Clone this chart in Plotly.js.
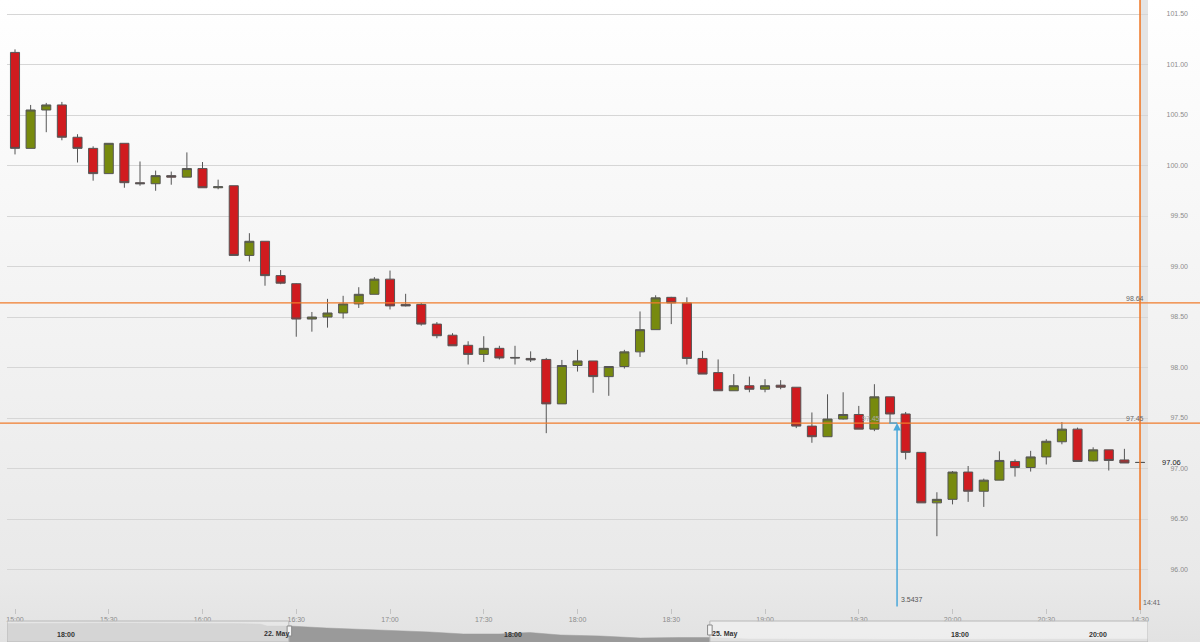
<!DOCTYPE html>
<html>
<head>
<meta charset="utf-8">
<script src="https://cdn.plot.ly/plotly-3.0.1.min.js"></script>
<style>
  html, body { margin: 0; padding: 0; }
  body { width: 1200px; height: 642px; overflow: hidden;
         background: linear-gradient(to bottom, #ffffff 0%, #f4f4f4 45%, #e9e9e9 90%, #e2e2e2 100%); }
  #chart { width: 1200px; height: 642px; }
</style>
</head>
<body>
<div id="chart"></div>
<script>
// ---- data (5-minute candles) ----
const times = [
  "15:00","15:05","15:10","15:15","15:20","15:25","15:30","15:35","15:40","15:45","15:50","15:55",
  "16:00","16:05","16:10","16:15","16:20","16:25","16:30","16:35","16:40","16:45","16:50","16:55",
  "17:00","17:05","17:10","17:15","17:20","17:25","17:30","17:35","17:40","17:45","17:50","17:55",
  "18:00","18:05","18:10","18:15","18:20","18:25","18:30","18:35","18:40","18:45","18:50","18:55",
  "19:00","19:05","19:10","19:15","19:20","19:25","19:30","19:35","19:40","19:45","19:50","19:55",
  "20:00","20:05","20:10","20:15","20:20","20:25","20:30","20:35","20:40","20:45","20:50","20:55",
  "14:30"
];
const openP = [
  101.12,100.17,100.55,100.60,100.28,100.17,99.92,100.22,99.83,99.82,99.90,99.885,
  99.97,99.78,99.80,99.11,99.25,98.91,98.83,98.48,98.50,98.54,98.63,98.725,
  98.875,98.625,98.625,98.43,98.32,98.22,98.13,98.19,98.10,98.09,98.08,97.64,
  98.02,98.065,97.91,98.01,98.155,98.375,98.695,98.64,98.09,97.95,97.77,97.82,
  97.785,97.825,97.805,97.42,97.315,97.49,97.535,97.39,97.71,97.54,97.16,96.66,
  96.695,96.965,96.775,96.885,97.07,97.01,97.115,97.265,97.39,97.075,97.185,97.085,
  97.06
];
const highP = [
  101.15,100.60,100.62,100.63,100.31,100.19,100.22,100.22,100.04,99.95,99.94,100.13,
  100.035,99.86,99.80,99.33,99.25,98.965,98.835,98.55,98.68,98.71,98.795,98.895,
  98.96,98.73,98.64,98.45,98.34,98.26,98.31,98.215,98.215,98.16,98.095,98.075,
  98.175,98.065,98.01,98.175,98.555,98.715,98.70,98.695,98.165,98.08,97.935,97.91,
  97.885,97.875,97.805,97.555,97.735,97.755,97.62,97.835,97.71,97.56,97.16,96.765,
  96.975,97.025,96.90,97.17,97.09,97.175,97.29,97.46,97.405,97.21,97.185,97.195,
  97.06
];
const lowP = [
  100.11,100.17,100.33,100.25,100.03,99.85,99.92,99.78,99.80,99.75,99.81,99.885,
  99.78,99.765,99.11,99.05,98.81,98.825,98.305,98.355,98.395,98.485,98.59,98.725,
  98.575,98.605,98.415,98.29,98.215,98.03,98.055,98.08,98.03,98.055,97.35,97.64,
  97.96,97.75,97.72,97.99,98.105,98.375,98.43,98.03,97.935,97.77,97.77,97.755,
  97.755,97.785,97.40,97.255,97.315,97.485,97.39,97.37,97.45,97.09,96.66,96.33,
  96.645,96.67,96.62,96.885,96.92,96.97,97.04,97.24,97.07,97.07,96.98,97.055,
  97.06
];
const closeP = [
  100.17,100.55,100.60,100.28,100.17,99.92,100.22,99.83,99.82,99.90,99.885,99.97,
  99.78,99.79,99.11,99.25,98.91,98.835,98.48,98.50,98.54,98.63,98.725,98.875,
  98.61,98.61,98.43,98.315,98.215,98.13,98.19,98.095,98.095,98.075,97.64,98.02,
  98.065,97.91,98.01,98.155,98.375,98.69,98.64,98.09,97.935,97.77,97.82,97.785,
  97.82,97.805,97.42,97.315,97.49,97.535,97.39,97.71,97.54,97.16,96.66,96.695,
  96.965,96.775,96.885,97.08,97.01,97.115,97.27,97.39,97.07,97.185,97.08,97.055,
  97.06
];
const tickTimes = ["15:00","15:30","16:00","16:30","17:00","17:30","18:00","18:30","19:00","19:30","20:00","20:30","14:30"];

// reference levels
const levelHigh = 98.64;
const levelLow = 97.45;
const lastPrice = 97.06;
const measureText = "3.5437";
const nowLabel = "14:41";

// navigator (overview) series
const navPos = [0, 10, 20, 22.2, 22.8, 24.7, 28, 31, 34.5, 37, 40, 43.2, 45.8, 48.5, 52, 55.5, 59, 61.5, 65, 80, 100];
const navVal = [100.83, 100.94, 100.83, 100.71, 100.26, 100.26, 99.80, 99.46, 99.23, 98.89, 98.43, 98.43, 98.77, 98.20, 97.97, 97.51, 97.63, 97.63, 97.29, 97.17, 97.29];
const navLabels = ["18:00", "22. May", "18:00", "25. May", "18:00", "20:00"];
const navLabelPos = [4.2, 22.35, 43.4, 61.6, 82.6, 94.65];

// ---- chart ----
const FONT = "'Liberation Sans', Arial, sans-serif";
const W = 1200, H = 642, ML = 7, MR = 52;
const PW = W - ML - MR;
const px2paperY = p => (H - p) / H;
const blue = '#4aa8da';
const orange = '#f07c2c';

const candle = {
  type: 'candlestick',
  x: times, open: openP, high: highP, low: lowP, close: closeP,
  increasing: { fillcolor: '#778a0e', line: { color: '#555555', width: 1 } },
  decreasing: { fillcolor: '#d01b1f', line: { color: '#555555', width: 1 } },
  whiskerwidth: 0,
  hoverinfo: 'skip',
  showlegend: false
};

const nav = {
  type: 'scatter', mode: 'lines',
  x: navPos, y: navVal, xaxis: 'x2', yaxis: 'y2',
  fill: 'tozeroy', fillcolor: '#9a9a9a',
  line: { color: '#9a9a9a', width: 0.5 },
  hoverinfo: 'skip', showlegend: false
};

const shapes = [
  // light strip at the live edge
  { type: 'rect', xref: 'x', yref: 'paper', x0: 72, x1: 72.51, y0: px2paperY(608), y1: 1,
    fillcolor: '#e4e4e4', line: { width: 0 }, layer: 'below' },
  // horizontal levels
  { type: 'line', xref: 'paper', yref: 'y', x0: -ML / PW, x1: 1 + MR / PW, y0: levelHigh, y1: levelHigh,
    line: { color: orange, width: 1.3 } },
  { type: 'line', xref: 'paper', yref: 'y', x0: -ML / PW, x1: 1 + MR / PW, y0: levelLow, y1: levelLow,
    line: { color: orange, width: 1.3 } },
  // current time line
  { type: 'line', xref: 'x', yref: 'paper', x0: 72, x1: 72, y0: px2paperY(610), y1: 1,
    line: { color: orange, width: 1.6 } },
  // small blue tick at arrow tip
  { type: 'line', xref: 'x', yref: 'y', x0: 55.95, x1: 56.45, y0: levelLow, y1: levelLow,
    line: { color: blue, width: 1.5 } },
  // navigator masks
  { type: 'rect', xref: 'x2', yref: 'paper', x0: 0, x1: 24.7, y0: 0, y1: px2paperY(621),
    fillcolor: 'rgba(232,232,232,0.75)', line: { color: '#b8b8b8', width: 1 } },
  { type: 'rect', xref: 'x2', yref: 'paper', x0: 61.6, x1: 100, y0: 0, y1: px2paperY(621),
    fillcolor: 'rgba(240,240,240,0.8)', line: { color: '#b8b8b8', width: 1 } },
  // navigator handles
  { type: 'rect', xref: 'x2', yref: 'paper', x0: 24.55, x1: 24.95, y0: px2paperY(636), y1: px2paperY(626),
    fillcolor: '#f4f4f4', line: { color: '#8a8a8a', width: 1 } },
  { type: 'rect', xref: 'x2', yref: 'paper', x0: 61.4, x1: 61.8, y0: px2paperY(635), y1: px2paperY(625),
    fillcolor: '#f4f4f4', line: { color: '#8a8a8a', width: 1 } }
];

const annotations = [
  { xref: 'paper', yref: 'y', x: (1146 - ML) / PW, y: levelHigh, xanchor: 'right', yanchor: 'bottom',
    text: levelHigh.toFixed(2), showarrow: false, font: { family: FONT, size: 7, color: '#666' }, yshift: -1 },
  { xref: 'paper', yref: 'y', x: (1146 - ML) / PW, y: levelLow, xanchor: 'right', yanchor: 'bottom',
    text: levelLow.toFixed(2), showarrow: false, font: { family: FONT, size: 7, color: '#666' }, yshift: -1 },
  { xref: 'x', yref: 'y', x: 54.8, y: levelLow, xanchor: 'center', yanchor: 'bottom',
    text: levelLow.toFixed(2), showarrow: false, font: { family: FONT, size: 7, color: '#aaa' }, yshift: -1 },
  { xref: 'paper', yref: 'y', x: (1160 - ML) / PW, y: lastPrice, xanchor: 'left', yanchor: 'middle',
    text: lastPrice.toFixed(2), showarrow: false, font: { family: FONT, size: 7.5, color: '#1a1a1a' } },
  { xref: 'x', yref: 'paper', x: 72, y: px2paperY(602), xanchor: 'left', yanchor: 'middle', xshift: 1,
    text: nowLabel, showarrow: false, font: { family: FONT, size: 7, color: '#666' } },
  { xref: 'x', yref: 'paper', x: 56.45, y: px2paperY(599), xanchor: 'left', yanchor: 'middle', xshift: 2,
    text: measureText, showarrow: false, font: { family: FONT, size: 7, color: '#555' } },
  { xref: 'x', yref: 'y', x: 56.45, y: levelLow, ax: 0, ay: 185, text: '', showarrow: true,
    arrowhead: 2, arrowsize: 1, arrowwidth: 1.5, arrowcolor: blue, standoff: 0 }
];
navLabels.forEach((t, i) => annotations.push({
  xref: 'x2', yref: 'paper', x: navLabelPos[i], y: px2paperY(634), xanchor: 'left', yanchor: 'middle',
  text: '<b>' + t + '</b>', showarrow: false, font: { family: FONT, size: 7, color: '#333' }
}));

const layout = {
  width: W, height: H,
  margin: { l: ML, r: MR, t: 0, b: 0, pad: 0 },
  paper_bgcolor: 'rgba(0,0,0,0)', plot_bgcolor: 'rgba(0,0,0,0)',
  font: { family: FONT, size: 7, color: '#888' },
  showlegend: false,
  boxgap: 0.17,
  xaxis: {
    type: 'category', categoryorder: 'array', categoryarray: times,
    range: [-0.512, 72.51], tickvals: tickTimes, ticktext: tickTimes,
    ticks: 'outside', ticklen: 5, tickcolor: '#c4c4c4', tickwidth: 1,
    tickfont: { family: FONT, size: 7, color: '#8c8c8c' },
    showgrid: false, zeroline: false, showline: false,
    rangeslider: { visible: false }, fixedrange: true, anchor: 'y'
  },
  yaxis: {
    domain: [px2paperY(608), 1], range: [95.619, 101.639],
    tick0: 0, dtick: 0.5, tickformat: '.2f',
    side: 'right', ticks: '', ticklabelposition: 'inside', ticklabelstandoff: -43,
    tickfont: { family: FONT, size: 7, color: '#8c8c8c' },
    gridcolor: '#d6d6d6', gridwidth: 1, zeroline: false, showline: false, fixedrange: true, anchor: 'x'
  },
  xaxis2: { domain: [0, 1], anchor: 'y2', range: [0, 100], visible: false, fixedrange: true },
  yaxis2: { domain: [0, px2paperY(621)], anchor: 'x2', range: [96.6, 101.4], visible: false, fixedrange: true },
  shapes: shapes,
  annotations: annotations
};

Plotly.newPlot('chart', [nav, candle], layout, { staticPlot: true, displayModeBar: false });
</script>
</body>
</html>
